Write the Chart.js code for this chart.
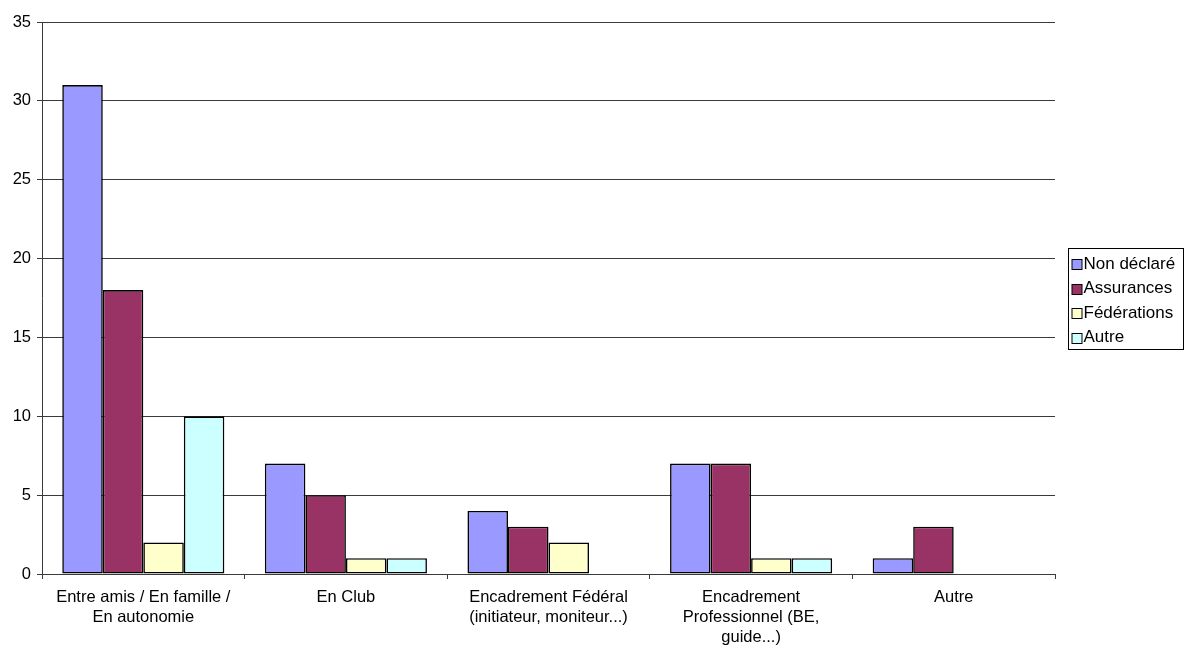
<!DOCTYPE html>
<html>
<head>
<meta charset="utf-8">
<script src="https://cdn.jsdelivr.net/npm/chart.js@4/dist/chart.umd.min.js"></script>
<style>
  html, body { margin: 0; padding: 0; background: #fff; }
  #wrap { width: 1184px; height: 651px; }
</style>
</head>
<body>
<div id="wrap"><canvas id="c" width="1184" height="651"></canvas></div>
<script>
// Encadrement de la pratique, par type de couverture
const categories = [
  ['Entre amis / En famille /', 'En autonomie'],
  'En Club',
  ['Encadrement Fédéral', '(initiateur, moniteur...)'],
  ['Encadrement', 'Professionnel (BE,', 'guide...)'],
  'Autre'
];
const seriesNames = ['Non déclaré', 'Assurances', 'Fédérations', 'Autre'];
const nonDeclare  = [31, 7, 4, 7, 1];
const assurances  = [18, 5, 3, 7, 3];
const federations = [2, 1, 2, 1, 0];
const autre       = [10, 1, 0, 1, 0];
const yTicks = [0, 5, 10, 15, 20, 25, 30, 35];

const colors = ['#9999FF', '#993366', '#FFFFCC', '#CCFFFF'];
const FONT = 'Arial, "Liberation Sans", sans-serif';
const LINE = '#3a3a3a';

const makeSet = (label, data, color) => ({
  label, data,
  backgroundColor: color,
  borderColor: '#000',
  borderWidth: ctx => (ctx.raw ? 1.6 : 0),
  borderSkipped: false
});

// Boxed legend on the right, vertically centred on the plot area
const boxedLegend = {
  id: 'boxedLegend',
  afterDraw(chart) {
    const { ctx, chartArea } = chart;
    const sets = chart.data.datasets;
    const rowH = 24.5;
    const boxW = 115, boxH = 101;
    const x0 = chartArea.right + 13.5;
    const y0 = Math.round((chartArea.top + chartArea.bottom) / 2 - boxH / 2) + 0.5;
    ctx.save();
    ctx.strokeStyle = '#000';
    ctx.lineWidth = 1;
    ctx.strokeRect(x0, y0, boxW, boxH);
    ctx.font = '17px ' + FONT;
    ctx.textBaseline = 'middle';
    ctx.textAlign = 'left';
    sets.forEach((ds, i) => {
      const cy = y0 + 15.5 + i * rowH;
      const sy = Math.round(cy - 5) + 0.5;
      ctx.fillStyle = ds.backgroundColor;
      ctx.fillRect(x0 + 3.5, sy, 10, 10);
      ctx.strokeRect(x0 + 3.5, sy, 10, 10);
      ctx.fillStyle = '#000';
      ctx.fillText(ds.label, x0 + 15, cy);
    });
    ctx.restore();
  }
};

new Chart(document.getElementById('c'), {
  type: 'bar',
  data: {
    labels: categories,
    datasets: [
      makeSet(seriesNames[0], nonDeclare, colors[0]),
      makeSet(seriesNames[1], assurances, colors[1]),
      makeSet(seriesNames[2], federations, colors[2]),
      makeSet(seriesNames[3], autre, colors[3])
    ]
  },
  options: {
    responsive: false,
    animation: false,
    devicePixelRatio: 1,
    layout: { padding: { top: 22, right: 129, bottom: 0, left: 0 } },
    plugins: { legend: { display: false }, tooltip: { enabled: false } },
    datasets: { bar: { categoryPercentage: 0.8, barPercentage: 1.0 } },
    scales: {
      x: {
        offset: true,
        grid: { offset: true, drawOnChartArea: false, drawTicks: true, tickLength: 5, color: LINE },
        border: { color: LINE, width: 1 },
        ticks: {
          color: '#000', maxRotation: 0, autoSkip: false, padding: 8,
          font: { family: FONT, size: 16.5, lineHeight: '20px' }
        },
        afterFit: s => { s.height = 77; }
      },
      y: {
        min: 0, max: 35,
        afterBuildTicks: s => { s.ticks = yTicks.map(v => ({ value: v })); },
        grid: { color: LINE, lineWidth: 1, drawTicks: true, tickLength: 5 },
        border: { color: LINE, width: 1 },
        ticks: { color: '#000', padding: 6, font: { family: FONT, size: 16.5 } },
        afterFit: s => { s.width = 42; }
      }
    }
  },
  plugins: [boxedLegend]
});
</script>
</body>
</html>
